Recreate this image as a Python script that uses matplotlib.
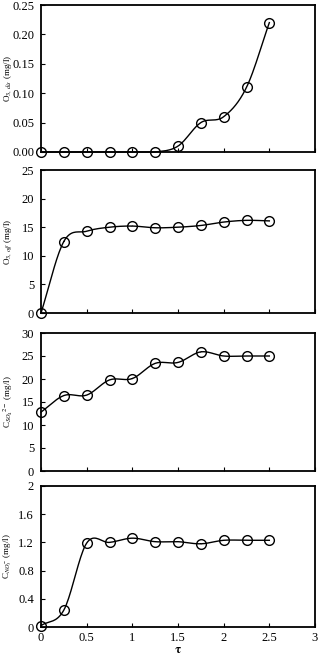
#!/usr/bin/env python3
import numpy as np
import matplotlib
matplotlib.use('Agg')
import matplotlib.pyplot as plt

plt.rcParams['font.family'] = ['Liberation Serif', 'DejaVu Serif']
plt.rcParams['mathtext.fontset'] = 'stix'

# Data
tau = [0, 0.25, 0.5, 0.75, 1.0, 1.25, 1.5, 1.75, 2.0, 2.25, 2.5]
o3_dis = [0, 0, 0, 0, 0, 0, 0.01, 0.05, 0.06, 0.11, 0.22]
o3_off = [0, 12.5, 14.3, 15.0, 15.2, 14.9, 15.0, 15.3, 15.9, 16.2, 16.1]
c_so4 = [12.8, 16.4, 16.5, 19.8, 20.1, 23.4, 23.6, 25.9, 25.0, 25.0, 25.0]
c_no3 = [0.02, 0.24, 1.19, 1.20, 1.26, 1.21, 1.21, 1.18, 1.23, 1.23, 1.23]

ylabels = [r'O$_{3,\,dis}$ (mg/l)', r'O$_{3,\,off}$ (mg/l)',
           r'C$_{SO_4}$$^{2-}$ (mg/l)', r'C$_{NO_3^{-}}$ (mg/l)']
yticks = [np.arange(0, 0.26, 0.05), np.arange(0, 26, 5),
          np.arange(0, 31, 5), np.arange(0, 2.01, 0.4)]
yfmt = ['{:.2f}', '{:g}', '{:g}', '{:g}']
series = [o3_dis, o3_off, c_so4, c_no3]


def smooth(x, y, n=20):
    """Catmull-Rom curve through the points (like Excel smoothed lines)"""
    x = np.asarray(x, float)
    y = np.asarray(y, float)
    px = np.concatenate([[2 * x[0] - x[1]], x, [2 * x[-1] - x[-2]]])
    py = np.concatenate([[2 * y[0] - y[1]], y, [2 * y[-1] - y[-2]]])
    xs, ys = [], []
    t = np.linspace(0, 1, n)
    for i in range(1, len(px) - 2):
        for p, out in ((px, xs), (py, ys)):
            p0, p1, p2, p3 = p[i - 1], p[i], p[i + 1], p[i + 2]
            out.extend(0.5 * (2 * p1 + (-p0 + p2) * t
                              + (2 * p0 - 5 * p1 + 4 * p2 - p3) * t ** 2
                              + (-p0 + 3 * p1 - 3 * p2 + p3) * t ** 3))
    return np.array(xs), np.array(ys)


fig = plt.figure(figsize=(3.24, 6.57), dpi=100)
# panel positions in pixels (top, bottom)
rows = [(5, 152), (170, 313), (333, 471), (486, 627)]
W, H = 324, 657
left, right = 41, 315

for k, (top, bot) in enumerate(rows):
    ax = fig.add_axes([left / W, 1 - bot / H, (right - left) / W, (bot - top) / H])
    y = series[k]
    sx, sy = smooth(tau, y)
    if k == 0:
        sy = np.clip(sy, 0, None)
    ax.plot(sx, sy, color='black', lw=1.0, clip_on=False)
    ax.plot(tau, y, 'o', ms=7, mfc='none', mec='black', mew=1.0, clip_on=False)
    ax.set_xlim(0, 3)
    ax.set_ylim(yticks[k][0], yticks[k][-1])
    ax.set_yticks(yticks[k])
    ax.set_yticklabels([yfmt[k].format(v) for v in yticks[k]])
    ax.set_xticks(np.arange(0, 3.01, 0.5))
    ax.tick_params(axis='x', direction='in', length=3, labelsize=9)
    ax.tick_params(axis='y', direction='in', length=3, labelsize=9, pad=5)
    if k < 3:
        ax.set_xticklabels([])
    else:
        ax.set_xticklabels(['0', '0.5', '1', '1.5', '2', '2.5', '3'])
        ax.set_xlabel(r'$\mathbf{\tau}$', fontsize=9, labelpad=0)
    ax.set_ylabel(ylabels[k], fontsize=6.5)
    ax.yaxis.set_label_coords((8 - left) / (right - left), 0.5)
    ax.yaxis.label.set_verticalalignment('center')
    for s in ax.spines.values():
        s.set_linewidth(1.3)

fig.savefig('out.png', dpi=100)
